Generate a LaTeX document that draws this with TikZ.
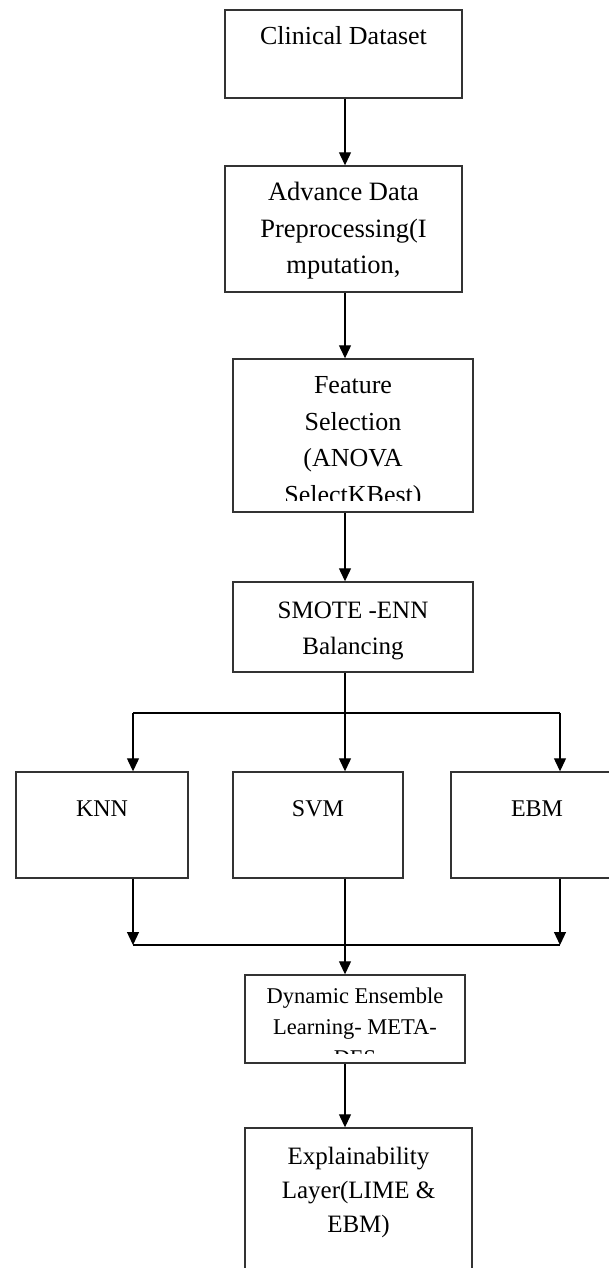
\documentclass[tikz,border=0pt]{standalone}
\usepackage{fontspec}
\setmainfont{Liberation Serif}
\usetikzlibrary{positioning,arrows.meta}

% text of a box, cut off a little above its bottom border
\newcommand{\boxtext}[5][]{%
  \begin{scope}
    \clip ([yshift=#3]#2.south west) rectangle (#2.north east);
    \node[lbl,#1,anchor=north] (#2-txt) at ([yshift=-#4]#2.north) {#5};
  \end{scope}}

\tikzset{
  blk/.style={draw=black!80, line width=1.4pt, inner sep=0pt},
  lbl/.style={align=center, inner sep=0pt, font=\fontsize{26}{36.5}\selectfont},
  arr/.style={line width=1.2pt, -{Triangle[width=12pt,length=13pt]}},
  lnk/.style={line width=1.2pt}
}

\begin{document}
\begin{tikzpicture}[x=1pt,y=-1pt]
  \useasboundingbox (0,0) rectangle (609,1268);
  \clip (0,0) rectangle (609,1268);

  % main column
  \node[blk, minimum width=237pt, minimum height=88pt] (data) at (343.5,54) {};
  \node[blk, minimum width=237pt, minimum height=126pt] (prep) at (343.5,229) {};
  \node[blk, minimum width=240pt, minimum height=153pt] (fsel) at (353,435.5) {};
  \node[blk, minimum width=240pt, minimum height=90pt] (smote) at (353,627) {};

  % classifiers
  \node[blk, minimum width=172pt, minimum height=106pt] (knn) at (102,825) {};
  \node[blk, minimum width=170pt, minimum height=106pt] (svm) at (318,825) {};
  \node[blk, minimum width=172pt, minimum height=106pt] (ebm) at (537,825) {};

  % ensemble and explanation
  \node[blk, minimum width=220pt, minimum height=88pt] (des) at (355,1019) {};
  \node[blk, minimum width=227pt, minimum height=162pt] (xai) at (358.5,1209) {};

  % texts
  \boxtext{data}{12pt}{17pt}{Clinical Dataset}
  \boxtext[font=\fontsize{26.5}{36.5}\selectfont]{prep}{12pt}{17pt}{Advance Data\\Preprocessing(I\\mputation,}
  \boxtext{fsel}{12pt}{18pt}{Feature\\Selection\\(ANOVA\\SelectKBest)}
  \boxtext[font=\fontsize{25}{36}\selectfont]{smote}{12pt}{20pt}{SMOTE -ENN\\Balancing}
  \boxtext[font=\fontsize{24}{36}\selectfont]{knn}{12pt}{29pt}{KNN}
  \boxtext[font=\fontsize{24}{36}\selectfont]{svm}{12pt}{29pt}{SVM}
  \boxtext[font=\fontsize{24}{36}\selectfont]{ebm}{12pt}{29pt}{EBM}
  \boxtext[font=\fontsize{22.5}{31}\selectfont]{des}{10pt}{13.5pt}{Dynamic Ensemble\\Learning- META-\\DES}
  \boxtext[font=\fontsize{25}{34}\selectfont]{xai}{12pt}{20pt}{Explainability\\Layer(LIME \&\\EBM)}

  % connectors
  \coordinate (axis) at (345,0);
  \coordinate (splitl) at (133,713);
  \coordinate (splitr) at (560,713);
  \coordinate (joinl) at (133,945);
  \coordinate (joinr) at (560,945);

  \draw[arr] (data.south -| axis) -- (prep.north -| axis);
  \draw[arr] (prep.south -| axis) -- (fsel.north -| axis);
  \draw[arr] (fsel.south -| axis) -- (smote.north -| axis);
  \draw[arr] (smote.south -| axis) -- (svm.north -| axis);
  \draw[lnk] (splitl) -- (splitr);
  \draw[arr] (splitl) -- (knn.north -| splitl);
  \draw[arr] (splitr) -- (ebm.north -| splitr);
  \draw[arr] (knn.south -| joinl) -- (joinl);
  \draw[arr] (ebm.south -| joinr) -- (joinr);
  \draw[lnk] (joinl) -- (joinr);
  \draw[arr] (svm.south -| axis) -- (des.north -| axis);
  \draw[arr] (des.south -| axis) -- (xai.north -| axis);
\end{tikzpicture}
\end{document}
